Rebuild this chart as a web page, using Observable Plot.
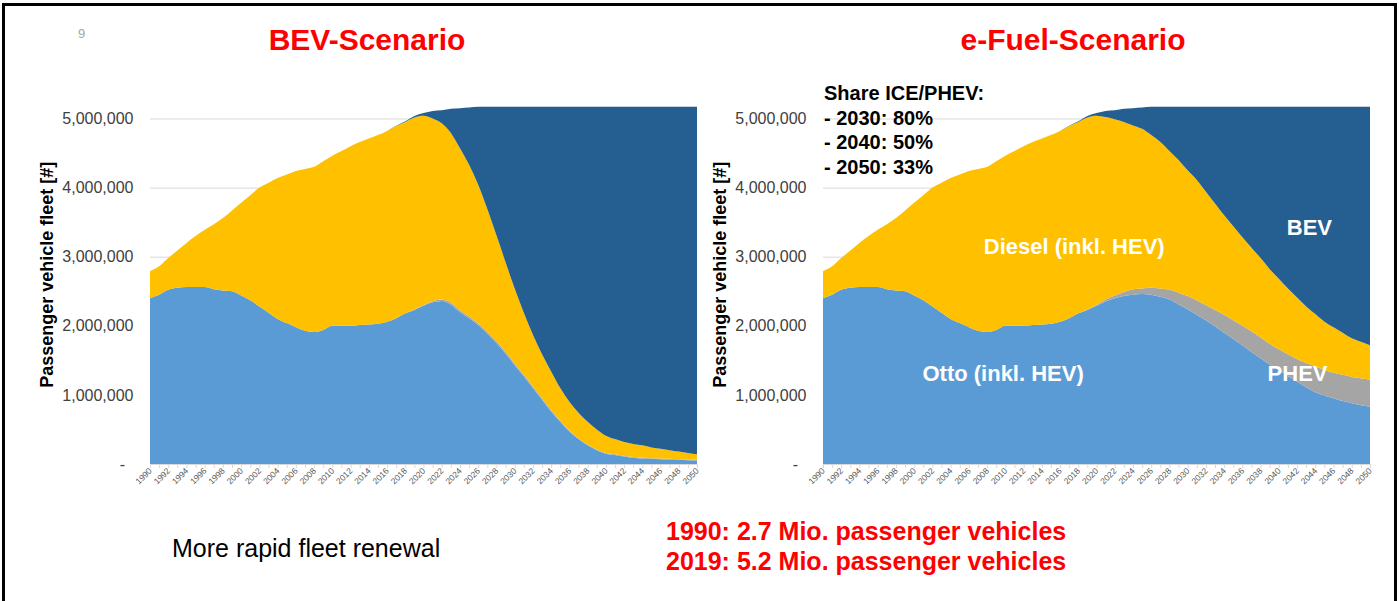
<!DOCTYPE html>
<html>
<head>
<meta charset="utf-8">
<script src="https://cdn.jsdelivr.net/npm/d3@7"></script>
<script src="https://cdn.jsdelivr.net/npm/@observablehq/plot@0.6"></script>
<style>
  html, body { margin: 0; padding: 0; background: #fff; }
  body { width: 1399px; height: 601px; overflow: hidden; position: relative; font-family: "Liberation Sans", Arial, sans-serif; }
  .frame { position: absolute; left: 2px; top: 3px; width: 1389px; height: 700px; border: 3px solid #000; border-bottom: none; }
  .abs { position: absolute; white-space: nowrap; }
  .title { font-size: 30px; font-weight: bold; color: #ff0000; line-height: 36px; transform: translateX(-50%); }
  .chart { position: absolute; top: 90px; }
</style>
</head>
<body>
<div class="frame"></div>
<div class="abs" style="left:78px; top:26px; font-size:13px; color:#a6a6a6; line-height:16px;">9</div>
<div class="abs title" style="left:367px; top:22px;">BEV-Scenario</div>
<div class="abs title" style="left:1073px; top:22px;">e-Fuel-Scenario</div>
<div id="left" class="chart" style="left:0px;"></div>
<div id="right" class="chart" style="left:673px;"></div>
<div class="abs" style="left:824px; top:81px; font-size:20px; font-weight:bold; color:#000; line-height:24.5px;">Share ICE/PHEV:<br>- 2030: 80%<br>- 2040: 50%<br>- 2050: 33%</div>
<div class="abs" style="left:172px; top:533px; font-size:25px; color:#000; line-height:30px;">More rapid fleet renewal</div>
<div class="abs" style="left:666px; top:516px; font-size:25px; font-weight:bold; color:#ff0000; line-height:30px;">1990: 2.7 Mio. passenger vehicles<br>2019: 5.2 Mio. passenger vehicles</div>
<script>
// ---------- data (values in million vehicles) ----------
const years = [1990,1991,1992,1993,1994,1995,1996,1997,1998,1999,2000,2001,2002,2003,2004,2005,2006,2007,2008,2009,
  2010,2011,2012,2013,2014,2015,2016,2017,2018,2019,2020,2021,2022,2023,2024,2025,2026,2027,2028,2029,
  2030,2031,2032,2033,2034,2035,2036,2037,2038,2039,2040,2041,2042,2043,2044,2045,2046,2047,2048,2049,2050];
const seriesNames = ["Otto (inkl. HEV)", "PHEV", "Diesel (inkl. HEV)", "BEV"];
const seriesColors = ["#5B9BD5", "#A5A5A5", "#FFC000", "#255E91"];

// history 1990-2019 (shared by both scenarios)
const historyOtto   = [2.40,2.45,2.52,2.55,2.56,2.56,2.56,2.53,2.51,2.50,2.44,2.37,2.28,2.19,2.10,2.04,1.98,1.93,1.91,1.94,2.00,2.00,2.00,2.01,2.02,2.03,2.06,2.11,2.18,2.23];
const historyPhev   = [0,0,0,0,0,0,0,0,0,0,0,0,0,0,0,0,0,0,0,0,0,0,0,0,0,0,0,0,0,0.005];
const historyDiesel = [0.39,0.41,0.46,0.54,0.64,0.74,0.83,0.94,1.05,1.17,1.34,1.52,1.72,1.88,2.04,2.15,2.26,2.34,2.39,2.44,2.46,2.53,2.60,2.65,2.69,2.73,2.76,2.78,2.77,2.78];
const historyBev    = [0,0,0,0,0,0,0,0,0,0,0,0,0,0,0,0,0,0,0,0,0,0,0,0,0,0,0,0.005,0.01,0.02];

// BEV scenario 2020-2050
const bevScenOtto   = [2.29,2.34,2.36,2.31,2.20,2.11,2.01,1.89,1.75,1.60,1.43,1.27,1.10,0.93,0.76,0.61,0.47,0.36,0.27,0.20,0.15,0.13,0.11,0.09,0.08,0.075,0.07,0.065,0.06,0.055,0.05];
const bevScenPhev   = [0.01,0.015,0.02,0.025,0.025,0.025,0.025,0.025,0.025,0.025,0.025,0.02,0.02,0.02,0.02,0.015,0.015,0.01,0.01,0.01,0.01,0.01,0.01,0.01,0.01,0.01,0.01,0.01,0.01,0.01,0.01];
const bevScenDiesel = [2.74,2.645,2.55,2.455,2.345,2.195,2.005,1.775,1.535,1.295,1.085,0.90,0.75,0.64,0.56,0.475,0.415,0.37,0.33,0.29,0.25,0.22,0.20,0.19,0.18,0.155,0.14,0.125,0.11,0.095,0.08];
const bevScenBev    = [0.04,0.11,0.19,0.35,0.58,0.83,1.13,1.48,1.86,2.25,2.63,2.98,3.30,3.58,3.83,4.07,4.27,4.43,4.56,4.67,4.76,4.81,4.85,4.88,4.90,4.93,4.95,4.97,4.99,5.01,5.03];

// e-Fuel scenario 2020-2050
const efScenOtto    = [2.29,2.35,2.40,2.43,2.45,2.46,2.45,2.42,2.38,2.31,2.24,2.16,2.08,1.99,1.90,1.81,1.72,1.62,1.53,1.44,1.36,1.27,1.19,1.11,1.04,0.99,0.95,0.91,0.88,0.85,0.83];
const efScenPhev    = [0.01,0.03,0.04,0.06,0.08,0.08,0.10,0.12,0.14,0.17,0.19,0.21,0.22,0.24,0.26,0.27,0.28,0.30,0.30,0.30,0.30,0.32,0.33,0.35,0.37,0.37,0.37,0.38,0.38,0.39,0.39];
const efScenDiesel  = [2.74,2.64,2.55,2.46,2.37,2.31,2.21,2.12,2.01,1.92,1.82,1.74,1.64,1.54,1.44,1.36,1.28,1.21,1.15,1.08,1.02,0.95,0.89,0.82,0.76,0.70,0.66,0.61,0.56,0.53,0.50];
const efScenBev     = [0.04,0.09,0.13,0.19,0.25,0.31,0.41,0.51,0.64,0.77,0.92,1.06,1.23,1.40,1.57,1.73,1.89,2.04,2.19,2.35,2.49,2.63,2.76,2.89,3.00,3.11,3.19,3.27,3.35,3.40,3.45];

const yTicks = [1000000, 2000000, 3000000, 4000000, 5000000];
const xLabelYears = [1990,1992,1994,1996,1998,2000,2002,2004,2006,2008,2010,2012,2014,2016,2018,2020,2022,2024,2026,2028,2030,2032,2034,2036,2038,2040,2042,2044,2046,2048,2050];
const yTitle = "Passenger vehicle fleet [#]";

const efLabels = [
  {text: "Otto (inkl. HEV)", year: 2009.7, value: 1.31},
  {text: "Diesel (inkl. HEV)", year: 2017.5, value: 3.15},
  {text: "BEV", year: 2043.3, value: 3.42},
  {text: "PHEV", year: 2042.0, value: 1.31}
];

// ---------- build tables ----------
function buildTable(futOtto, futPhev, futDiesel, futBev) {
  const cols = [
    historyOtto.concat(futOtto),
    historyPhev.concat(futPhev),
    historyDiesel.concat(futDiesel),
    historyBev.concat(futBev)
  ];
  const rows = [];
  seriesNames.forEach((s, i) => {
    years.forEach((yr, j) => rows.push({year: yr, series: s, value: cols[i][j] * 1e6}));
  });
  return rows;
}

function makeChart(table, labels) {
  const marks = [
    Plot.gridY(yTicks, {stroke: "#D9D9D9", strokeOpacity: 1}),
    Plot.areaY(table, {x: "year", y: "value", fill: "series", order: seriesNames, curve: "monotone-x"}),
    Plot.ruleY([0], {stroke: "#D9D9D9"}),
    Plot.axisX({ticks: years, tickSize: 4, text: null, stroke: "#D9D9D9", label: null}),
    Plot.axisX({ticks: xLabelYears, tickSize: 0, tickPadding: 5, tickRotate: -45, tickFormat: d => String(d),
                fontSize: 8.5, fill: "#595959", label: null}),
    Plot.axisY({ticks: yTicks, tickSize: 0, tickPadding: 17, tickFormat: d3.format(","), fontSize: 16,
                fill: "#404040", label: null}),
    Plot.text(["-"], {x: years[0], y: 0, dx: -28, textAnchor: "middle", fontSize: 16, fill: "#404040"}),
    Plot.text([yTitle], {frameAnchor: "left", textAnchor: "middle", dx: -103, dy: -17, rotate: -90, fontSize: 18,
                         fontWeight: "bold", fill: "#000"})
  ];
  if (labels) {
    marks.push(Plot.text(labels, {x: "year", y: d => d.value * 1e6, text: "text", fill: "white",
                                  fontSize: 22, fontWeight: "bold"}));
  }
  return Plot.plot({
    width: 700, height: 420,
    marginLeft: 150, marginRight: 3, marginTop: 28.5, marginBottom: 46,
    style: {background: "transparent", fontFamily: "Liberation Sans, Arial, sans-serif", overflow: "visible"},
    x: {domain: [1990, 2050], axis: null},
    y: {domain: [0, 5000000], axis: null},
    color: {domain: seriesNames, range: seriesColors},
    marks
  });
}

document.getElementById("left").appendChild(makeChart(buildTable(bevScenOtto, bevScenPhev, bevScenDiesel, bevScenBev), null));
document.getElementById("right").appendChild(makeChart(buildTable(efScenOtto, efScenPhev, efScenDiesel, efScenBev), efLabels));
</script>
</body>
</html>
